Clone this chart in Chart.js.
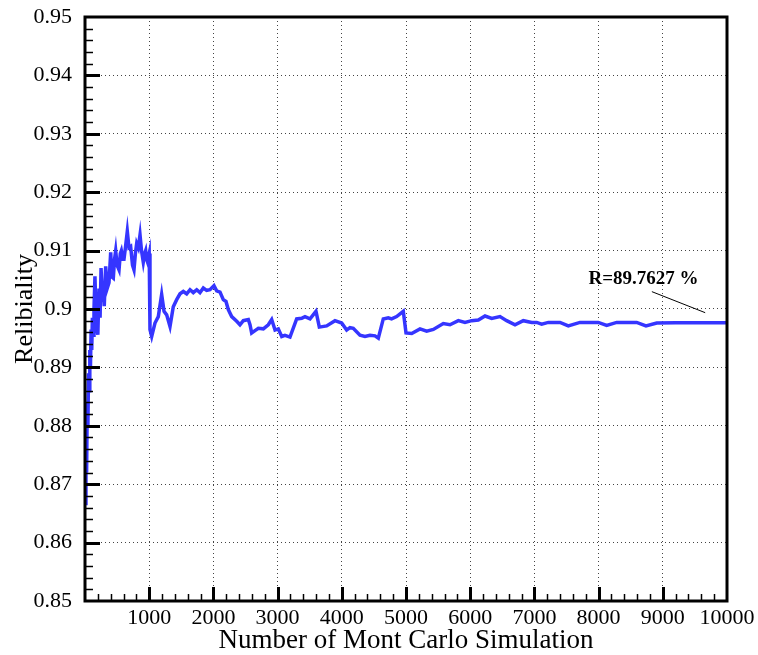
<!DOCTYPE html>
<html>
<head>
<meta charset="utf-8">
<script src="https://cdn.jsdelivr.net/npm/chart.js@4"></script>
<style>
  body { margin: 0; background: #fff; }
  canvas { display: block; }
</style>
</head>
<body>
<canvas id="mc-chart" width="758" height="655"></canvas>
<script>
// number of simulations (x) and running reliability (y)
var simCount = [
  5, 15, 25, 35, 45, 55, 65, 75, 85, 95, 105, 115, 125, 140, 155, 175, 200, 218, 235, 250,
  268, 285, 300, 322, 345, 374, 400, 420, 441, 460, 478, 500, 530, 550, 566, 590, 607, 635, 659, 685,
  711, 740, 763, 785, 805, 830, 857, 880, 908, 930, 945, 960, 975, 990, 1000, 1012, 1039, 1090, 1142, 1194,
  1231, 1272, 1324, 1375, 1428, 1480, 1531, 1584, 1636, 1687, 1740, 1791, 1843, 1895, 1947, 2009, 2051, 2103, 2154, 2196,
  2232, 2285, 2363, 2414, 2466, 2544, 2570, 2596, 2648, 2700, 2778, 2855, 2908, 2960, 3011, 3064, 3115, 3193, 3297, 3375,
  3427, 3505, 3598, 3650, 3764, 3894, 3998, 4076, 4128, 4179, 4283, 4361, 4439, 4517, 4569, 4646, 4724, 4776, 4854, 4958,
  5000, 5089, 5218, 5322, 5426, 5581, 5685, 5815, 5919, 6023, 6127, 6231, 6335, 6464, 6568, 6698, 6827, 6958, 7036, 7113,
  7217, 7399, 7528, 7710, 7995, 8126, 8282, 8593, 8738, 8905, 9200, 10000
];
var reliability = [
  0.8667, 0.876, 0.872, 0.884, 0.880, 0.889, 0.886, 0.893, 0.890, 0.8965, 0.893, 0.8985, 0.8955, 0.900, 0.9056, 0.8975, 0.8956, 0.9035, 0.8985, 0.907,
  0.9025, 0.9033, 0.9005, 0.9073, 0.9035, 0.9045, 0.9097, 0.9055, 0.9053, 0.9085, 0.910, 0.9075, 0.9067, 0.9095, 0.910, 0.9085, 0.9085, 0.911, 0.9133, 0.9105,
  0.9107, 0.9075, 0.9067, 0.9095, 0.9112, 0.9105, 0.9127, 0.910, 0.908, 0.9095, 0.910, 0.9085, 0.908, 0.909, 0.9095, 0.8965, 0.8953, 0.8976, 0.8987, 0.9025,
  0.8996, 0.899, 0.897, 0.9004, 0.9016, 0.9026, 0.903, 0.9026, 0.9033, 0.9028, 0.9033, 0.9028, 0.9036, 0.9032, 0.9033, 0.904, 0.9031, 0.9029, 0.9016, 0.9013,
  0.8999, 0.8987, 0.8979, 0.8973, 0.898, 0.8982, 0.8973, 0.8959, 0.8963, 0.8967, 0.8966, 0.8973, 0.8982, 0.8964, 0.8966, 0.8953, 0.8955, 0.8952, 0.8983, 0.8984,
  0.8987, 0.8983, 0.8996, 0.8969, 0.8971, 0.898, 0.8976, 0.8964, 0.8968, 0.8967, 0.8955, 0.8953, 0.8955, 0.8954, 0.895, 0.8983, 0.8985, 0.8983, 0.8987, 0.8996,
  0.8959, 0.8958, 0.8966, 0.8962, 0.8965, 0.8975, 0.8973, 0.898, 0.8977, 0.898, 0.8981, 0.8988, 0.8984, 0.8987, 0.898, 0.8973, 0.898, 0.8977, 0.8977, 0.8974,
  0.8977, 0.8977, 0.8971, 0.8977, 0.8977, 0.8972, 0.8977, 0.8977, 0.8971, 0.8976, 0.89763, 0.89763
];

var xTicks = [1000, 2000, 3000, 4000, 5000, 6000, 7000, 8000, 9000, 10000];
var yTicks = [0.85, 0.86, 0.87, 0.88, 0.89, 0.9, 0.91, 0.92, 0.93, 0.94, 0.95];
var noteText = 'R=89.7627 %';

var serif = '"Liberation Serif", "Times New Roman", serif';

var points = simCount.map(function (n, i) { return { x: n, y: reliability[i] }; });

// frame, inward minor/major ticks and the R= note
var framePlugin = {
  id: 'frame',
  afterDraw: function (chart) {
    var ctx = chart.ctx;
    var a = chart.chartArea;
    var xs = chart.scales.x, ys = chart.scales.y;
    ctx.save();
    ctx.strokeStyle = '#000';
    // x ticks every 200
    for (var v = 200; v < 10000; v += 200) {
      var px = Math.round(xs.getPixelForValue(v)) + 0.5;
      var major = v % 1000 === 0;
      ctx.lineWidth = major ? 3 : 1.5;
      ctx.beginPath();
      ctx.moveTo(px, a.bottom);
      ctx.lineTo(px, a.bottom - (major ? 14 : 7));
      ctx.stroke();
    }
    // y ticks every 0.002
    for (var k = 1; k < 50; k++) {
      var py = Math.round(ys.getPixelForValue(0.85 + k * 0.002)) + 0.5;
      var maj = k % 5 === 0;
      ctx.lineWidth = maj ? 3 : 1.5;
      ctx.beginPath();
      ctx.moveTo(a.left, py);
      ctx.lineTo(a.left + (maj ? 15 : 8), py);
      ctx.stroke();
    }
    ctx.lineWidth = 3;
    ctx.strokeRect(a.left, a.top, a.right - a.left, a.bottom - a.top);

    // note and pointer
    ctx.font = 'bold 19px ' + serif;
    ctx.fillStyle = '#000';
    ctx.textAlign = 'center';
    ctx.textBaseline = 'middle';
    ctx.fillText(noteText, xs.getPixelForValue(8700), ys.getPixelForValue(0.9052));
    ctx.lineWidth = 1;
    ctx.beginPath();
    ctx.moveTo(xs.getPixelForValue(8830), ys.getPixelForValue(0.90297));
    ctx.lineTo(xs.getPixelForValue(9660), ys.getPixelForValue(0.89937));
    ctx.stroke();
    ctx.restore();
  }
};

var ctx = document.getElementById('mc-chart').getContext('2d');

var chart = new Chart(ctx, {
  type: 'line',
  data: {
    datasets: [{
      data: points,
      borderColor: '#3535ff',
      borderWidth: 3.5,
      pointRadius: 0,
      tension: 0,
      fill: false
    }]
  },
  options: {
    responsive: false,
    animation: false,
    layout: { padding: { top: 17, right: 31, left: 0, bottom: 0 } },
    plugins: { legend: { display: false }, tooltip: { enabled: false } },
    scales: {
      x: {
        type: 'linear',
        min: 0,
        max: 10000,
        afterBuildTicks: function (s) { s.ticks = [{ value: 0 }].concat(xTicks.map(function (v) { return { value: v }; })); },
        afterFit: function (s) { s.height = 54; s.paddingLeft = 0; s.paddingRight = 0; },
        grid: {
          drawTicks: false,
          color: function (c) { return (c.tick.value === 0 || c.tick.value === 10000) ? 'rgba(0,0,0,0)' : '#444'; },
          lineWidth: 1
        },
        border: { display: false, dash: [1, 3] },
        ticks: {
          padding: 6,
          color: '#000',
          maxRotation: 0,
          font: { family: serif, size: 22, lineHeight: 1 },
          callback: function (v) { return v === 0 ? '' : String(v); }
        },
        title: {
          display: true,
          text: 'Number of Mont Carlo Simulation',
          color: '#000',
          font: { family: serif, size: 27, lineHeight: 1 },
          padding: { top: 0, bottom: 1 }
        }
      },
      y: {
        min: 0.85,
        max: 0.95,
        afterBuildTicks: function (s) { s.ticks = yTicks.map(function (v) { return { value: v }; }); },
        afterFit: function (s) { s.width = 85; s.paddingTop = 0; s.paddingBottom = 0; },
        grid: {
          drawTicks: false,
          color: function (c) { return (c.index === 0 || c.index === yTicks.length - 1) ? 'rgba(0,0,0,0)' : '#444'; },
          lineWidth: 1
        },
        border: { display: false, dash: [1, 3] },
        ticks: {
          padding: 13,
          color: '#000',
          font: { family: serif, size: 22, lineHeight: 1 },
          callback: function (v) { return String(Number(v.toFixed(2))); }
        },
        title: {
          display: true,
          text: 'Relibiality',
          color: '#000',
          font: { family: serif, size: 26, lineHeight: 1 },
          padding: { top: 12, bottom: 0 }
        }
      }
    }
  },
  plugins: [framePlugin]
});
</script>
</body>
</html>
